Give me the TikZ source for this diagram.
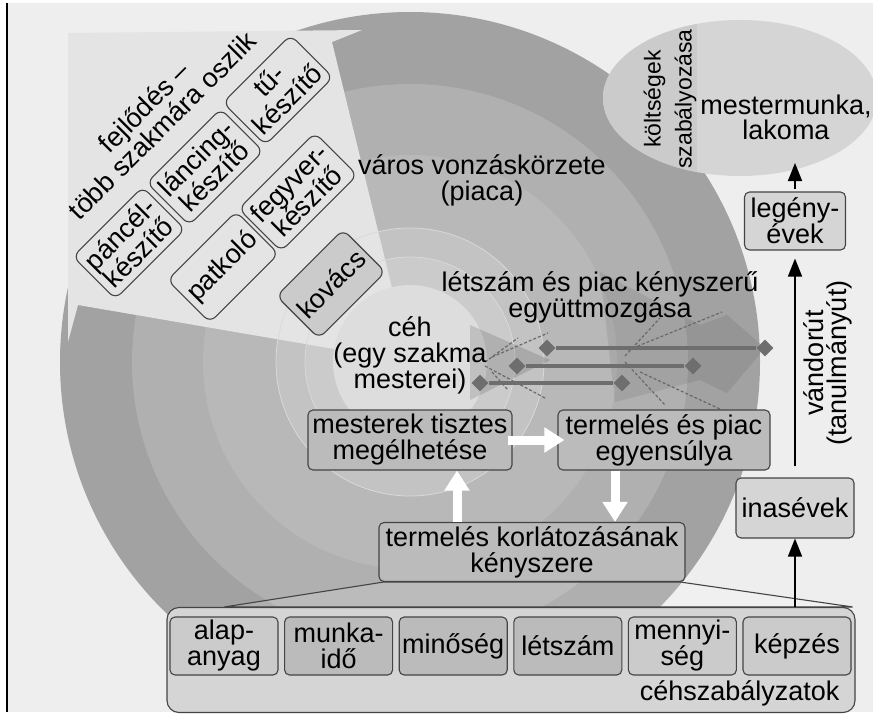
\documentclass[tikz,border=0pt]{standalone}
\usepackage{fontspec}
\setmainfont{Liberation Sans}
\usepackage{xcolor}
\usetikzlibrary{positioning,shapes.geometric,arrows.meta}

\definecolor{bggray}{HTML}{EEEEEE}
\definecolor{ringA}{HTML}{A2A2A2}
\definecolor{ringB}{HTML}{B0B0B0}
\definecolor{ringC}{HTML}{B8B8B8}
\definecolor{ringD}{HTML}{C3C3C3}
\definecolor{ringE}{HTML}{CBCBCB}
\definecolor{cehgray}{HTML}{DDDDDD}
\definecolor{wedgegray}{HTML}{E4E4E4}
\definecolor{boxgray}{HTML}{BBBBBB}
\definecolor{lightbox}{HTML}{D5D5D5}
\definecolor{edgegray}{HTML}{444444}
\definecolor{diagray}{HTML}{6E6E6E}

\begin{document}
\begin{tikzpicture}[x=1pt, y=-1pt, node distance = 5.5pt, font=\fontsize{27}{26}\selectfont]
            \tikzstyle{box} = [draw=edgegray, line width=1.1pt, rounded corners=5pt, fill=boxgray, align=center, inner sep=0pt]
            \tikzstyle{trade} = [draw=edgegray, line width=1.1pt, rounded corners=8pt, align=center, rotate=45, inner xsep=5pt, inner ysep=0pt, minimum height=60pt]
            \tikzstyle{rulebox} = [box, minimum width=108pt, minimum height=58pt]
            \tikzstyle{dia} = [diamond, fill=diagray, inner sep=0pt, minimum size=17pt]
            \tikzstyle{dline} = [diagray, line width=3.5pt]
            \tikzstyle{trace} = [densely dashed, edgegray!80, line width=1.2pt]
            \tikzstyle{arr} = [-{Triangle[length=18pt,width=14pt]}, line width=1.6pt]
            \tikzstyle{fat} = [-{Triangle[length=20pt,width=24pt]}, white, line width=9pt]

            \useasboundingbox (0,0) rectangle (873,715);
            \fill[white] (0,0) rectangle (873,715);
            \fill[bggray] (7,3) rectangle (873,712);
            \draw[black, line width=1.4pt] (7,3) -- (7,712);

            \foreach \rad/\col in {350/ringA, 278/ringB, 207/ringC, 134/ringD, 105/ringE}
                \fill[\col] (410,362) circle (\rad pt);
            \fill[wedgegray] (410,362) -- (332,42) -- (362,30) -- (68,33) -- (68,342) -- (78,305) -- cycle;
            \draw[white!85!black, line width=0.8pt] (410,362) circle (134pt) (410,362) circle (105pt);
            \fill[cehgray] (410,362) circle (77pt);

            \fill[black, opacity=0.13] (470,325) -- (550,360) -- (470,400) -- cycle;
            \fill[black, opacity=0.08] (600,272) -- (700,325) -- (727,315) -- (765,348) -- (727,393) -- (700,380) -- (615,402) -- cycle;

            \draw[trace] (485,362) -- (518,338);
            \draw[trace] (492,357) -- (548,333);
            \draw[trace] (485,366) -- (545,398);
            \draw[trace] (492,372) -- (508,390);
            \draw[trace] (625,356) -- (660,318);
            \draw[trace] (628,350) -- (722,312);
            \draw[trace] (625,362) -- (665,405);
            \draw[trace] (640,372) -- (722,410);

            \node[ellipse, fill=lightbox, minimum width=274pt, minimum height=156pt] (feast) at (740,98) {};
            \begin{scope}
                \clip (740,98) ellipse (137pt and 78pt);
                \fill[ringE] (590,0) rectangle (697,200);
            \end{scope}
            \node[rotate=90, align=center, font=\fontsize{23}{31}\selectfont] (cost) at (670,99) {költségek\\szabályozása};
            \node[align=center, font=\fontsize{27}{25}\selectfont] (mm) at (786,117) {mestermunka,\\lakoma};

            \node[align=center] (ceh) at (410,355) {céh\\(egy szakma\\mesterei)};
            \node[align=center] (piaca) at (482,180) {város vonzáskörzete\\(piaca)};
            \node[align=center] (egyutt) at (600,297) {létszám és piac kényszerű\\együttmozgása};
            \node[align=center, rotate=45] (fejl) at (153,116) {fejlődés –\\több szakmára oszlik};

            \node[trade] (tu) at (278,90) {tű-\\készítő};
            \node[trade] (lanc) at (205,167) {láncing-\\készítő};
            \node[trade] (pancel) at (129,243) {páncél-\\készítő};
            \node[trade] (fegyver) at (298,192) {fegyver-\\készítő};
            \node[trade] (patkolo) at (223,267) {patkoló};
            \node[trade, fill=ringE] (kovacs) at (331,284) {kovács};

            \node[dia] (a1) at (480,383) {};
            \node[dia] (a2) at (622,383) {};
            \node[dia] (b1) at (517,366) {};
            \node[dia] (b2) at (693,366) {};
            \node[dia] (c1) at (547,348) {};
            \node[dia] (c2) at (765,348) {};
            \draw[dline] (a1) -- (a2);
            \draw[dline] (b1) -- (b2);
            \draw[dline] (c1) -- (c2);

            \node[box, minimum width=204pt, minimum height=60pt] (mest) at (410,440) {mesterek tisztes\\megélhetése};
            \node[box, minimum width=212pt, minimum height=60pt] (tpiac) at (664,440) {termelés és piac\\egyensúlya};
            \node[box, minimum width=306pt, minimum height=59pt] (tkorl) at (532,552) {termelés korlátozásának\\kényszere};

            \node[box, fill=lightbox, rounded corners=12pt, minimum width=688pt, minimum height=105pt] (cszab) at (511,660) {};
            \draw[edgegray, line width=1.1pt, fill=white, fill opacity=0.15] ([xshift=5pt]tkorl.south west) -- ([xshift=58pt]cszab.north west) -- ([xshift=-3pt]cszab.north east) -- ([xshift=-5pt]tkorl.south east) -- cycle;

            \node[rulebox, fill=ringE] (alap) at (224,646) {alap-\\anyag};
            \node[rulebox, right = of alap] (munka) {munka-\\idő};
            \node[rulebox, right = of munka] (minos) {minőség};
            \node[rulebox, right = of minos] (letsz) {létszám};
            \node[rulebox, fill=ringE, right = of letsz] (menny) {mennyi-\\ség};
            \node[rulebox, fill=ringE, right = of menny] (kepz) {képzés};
            \node[anchor=base east] (cszabl) at (843,700) {céhszabályzatok};

            \node[box, fill=lightbox, minimum width=101pt, minimum height=58pt] (legeny) at (795,221) {legény-\\évek};
            \node[box, fill=lightbox, minimum width=118pt, minimum height=60pt] (inas) at (795,508) {inasévek};
            \coordinate (feastin) at (795,163);
            \node[rotate=90, align=center, font=\fontsize{27}{23}\selectfont] (vandor) at (828,363) {vándorút\\(tanulmányút)};

            \draw[arr] (inas |- cszab.north) -- (inas);
            \draw[arr, shorten <=11pt, shorten >=8pt] (inas) -- (legeny);
            \draw[arr, shorten <=2pt] (legeny) -- (feastin);

            \draw[fat, shorten <=-5pt, shorten >=-7pt] (mest.east) -- (tpiac.west);
            \draw[fat] ([xshift=-49pt]tpiac.south) -- ([xshift=-49pt]tpiac.south |- tkorl.north);
            \draw[fat] ([xshift=-75pt]tkorl.north) -- ([xshift=-75pt]tkorl.north |- mest.south);
        \end{tikzpicture}
\end{document}
